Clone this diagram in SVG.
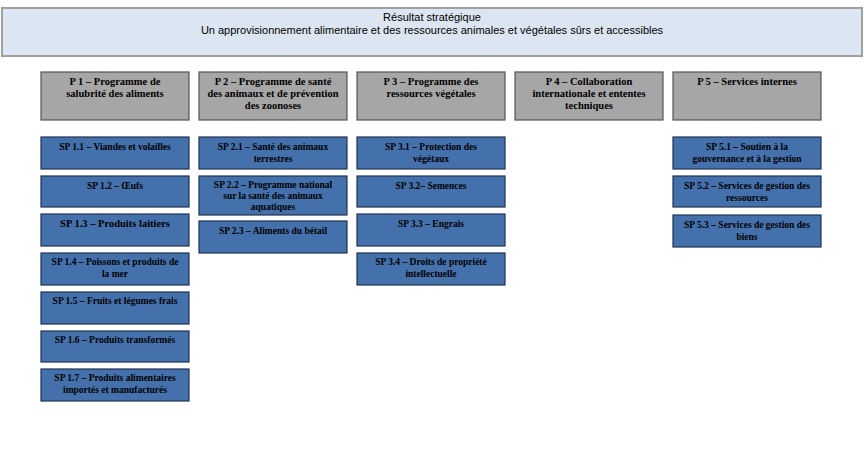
<svg xmlns="http://www.w3.org/2000/svg" width="864" height="449" viewBox="0 0 864 449">
<style>
.top{fill:#dce6f2;stroke:#a0a0a0;stroke-width:2}
.p{fill:#a6a6a6;stroke:#555;stroke-width:1.2}
.sp{fill:#4470ab;stroke:#1f3350;stroke-width:1.2}
.tt{font-family:"Liberation Sans",sans-serif;font-size:11px;text-anchor:middle;fill:#000}
.pt{font-family:"Liberation Serif",serif;font-size:10.5px;font-weight:bold;text-anchor:middle;fill:#000}
.st{font-family:"Liberation Serif",serif;font-size:9.5px;font-weight:bold;text-anchor:middle;fill:#000}
</style>
<rect width="864" height="449" fill="#fff"/>
<g id="top"><rect class="top" x="2" y="8" width="860" height="48"/>
<text class="tt" x="432" y="21">Résultat stratégique</text>
<text class="tt" x="432" y="34">Un approvisionnement alimentaire et des ressources animales et végétales sûrs et accessibles</text></g>
<g id="p1"><rect class="p" x="41" y="72" width="148" height="48"/><text class="pt" x="115" y="85">P 1 – Programme de</text><text class="pt" x="115" y="97">salubrité des aliments</text></g>
<g id="p2"><rect class="p" x="199" y="72" width="148" height="48"/><text class="pt" x="273" y="85">P 2 – Programme de santé</text><text class="pt" x="273" y="97">des animaux et de prévention</text><text class="pt" x="273" y="109">des zoonoses</text></g>
<g id="p3"><rect class="p" x="357" y="72" width="148" height="48"/><text class="pt" x="431" y="85">P 3 – Programme des</text><text class="pt" x="431" y="97">ressources végétales</text></g>
<g id="p4"><rect class="p" x="515" y="72" width="148" height="48"/><text class="pt" x="589" y="85">P 4 – Collaboration</text><text class="pt" x="589" y="97">internationale et ententes</text><text class="pt" x="589" y="109">techniques</text></g>
<g id="p5"><rect class="p" x="673" y="72" width="148" height="48"/><text class="pt" x="747" y="85">P 5 – Services internes</text></g>
<g id="sp11"><rect class="sp" x="41" y="137" width="148" height="32"/><text class="st" x="115" y="150">SP 1.1 – Viandes et volailles</text></g>
<g id="sp12"><rect class="sp" x="41" y="176" width="148" height="31"/><text class="st" x="115" y="189">SP 1.2 – Œufs</text></g>
<g id="sp13"><rect class="sp" x="41" y="214" width="148" height="32"/><text class="pt" x="115" y="227">SP 1.3 – Produits laitiers</text></g>
<g id="sp14"><rect class="sp" x="41" y="253" width="148" height="32"/><text class="st" x="115" y="265">SP 1.4 – Poissons et produits de</text><text class="st" x="115" y="277">la mer</text></g>
<g id="sp15"><rect class="sp" x="41" y="292" width="148" height="32"/><text class="st" x="115" y="304">SP 1.5 – Fruits et légumes frais</text></g>
<g id="sp16"><rect class="sp" x="41" y="331" width="148" height="31"/><text class="st" x="115" y="343">SP 1.6 – Produits transformés</text></g>
<g id="sp17"><rect class="sp" x="41" y="369" width="148" height="32"/><text class="st" x="115" y="381">SP 1.7 – Produits alimentaires</text><text class="st" x="115" y="393">importés et manufacturés</text></g>
<g id="sp21"><rect class="sp" x="199" y="137" width="148" height="32"/><text class="st" x="273" y="150">SP 2.1 – Santé des animaux</text><text class="st" x="273" y="162">terrestres</text></g>
<g id="sp22"><rect class="sp" x="199" y="176" width="148" height="39"/><text class="st" x="273" y="188">SP 2.2 – Programme national</text><text class="st" x="273" y="199">sur la santé des animaux</text><text class="st" x="273" y="210">aquatiques</text></g>
<g id="sp23"><rect class="sp" x="199" y="221" width="148" height="32"/><text class="st" x="273" y="234">SP 2.3 – Aliments du bétail</text></g>
<g id="sp31"><rect class="sp" x="357" y="137" width="148" height="32"/><text class="st" x="431" y="150">SP 3.1 – Protection des</text><text class="st" x="431" y="162">végétaux</text></g>
<g id="sp32"><rect class="sp" x="357" y="176" width="148" height="31"/><text class="st" x="431" y="189">SP 3.2– Semences</text></g>
<g id="sp33"><rect class="sp" x="357" y="214" width="148" height="32"/><text class="st" x="431" y="227">SP 3.3 – Engrais</text></g>
<g id="sp34"><rect class="sp" x="357" y="253" width="148" height="32"/><text class="st" x="431" y="265">SP 3.4 – Droits de propriété</text><text class="st" x="431" y="277">intellectuelle</text></g>
<g id="sp51"><rect class="sp" x="673" y="137" width="148" height="32"/><text class="st" x="747" y="150">SP 5.1 – Soutien à la</text><text class="st" x="747" y="162">gouvernance et à la gestion</text></g>
<g id="sp52"><rect class="sp" x="673" y="176" width="148" height="31"/><text class="st" x="747" y="189">SP 5.2 – Services de gestion des</text><text class="st" x="747" y="201">ressources</text></g>
<g id="sp53"><rect class="sp" x="673" y="215" width="148" height="32"/><text class="st" x="747" y="228">SP 5.3 – Services de gestion des</text><text class="st" x="747" y="240">biens</text></g>
<g id="connectors"/>
</svg>
